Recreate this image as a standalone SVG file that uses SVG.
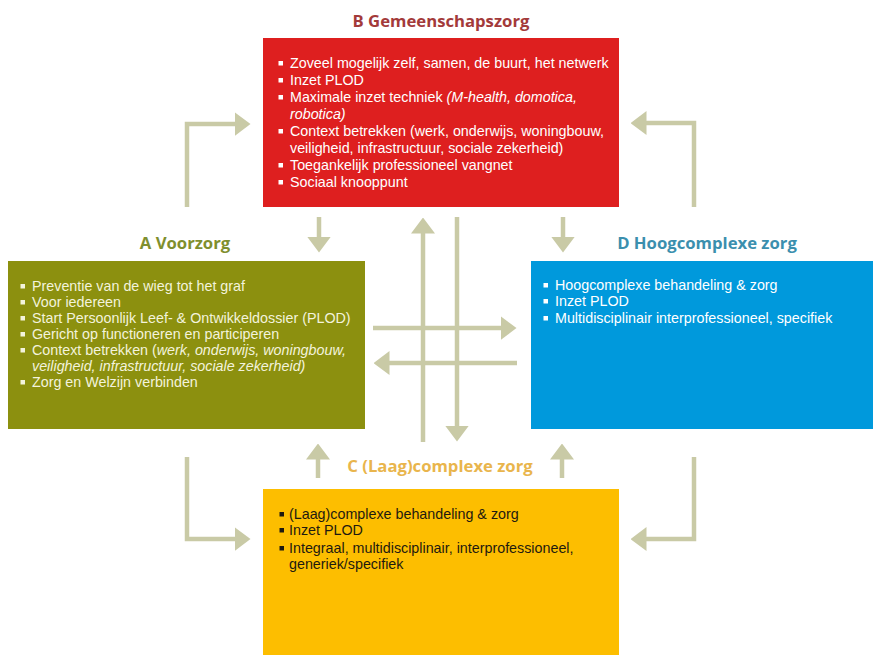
<svg xmlns="http://www.w3.org/2000/svg" width="873" height="655" viewBox="0 0 873 655">
<style>
.title{font-family:"Open Sans","Liberation Sans",sans-serif;font-weight:bold;font-size:16.7px;text-anchor:middle}
.body{font-family:"Liberation Sans",Arial,sans-serif;font-size:14.3px}
.w{fill:#ffffff}
.a{fill:#f3f3dc}
.k{fill:#1e1a10}
.it{font-style:italic}
.conn path{fill:none;stroke:#c9caa6;stroke-width:4.5}
</style>
<defs>
<marker id="ah" viewBox="0 0 16 24" markerWidth="16" markerHeight="24" markerUnits="userSpaceOnUse" refX="0.5" refY="12" orient="auto">
<path d="M0,0 L16,12 L0,24 z" fill="#c9caa6"/>
</marker>
</defs>
<rect width="873" height="655" fill="#ffffff"/>

<g class="conn" id="connectors">
<path d="M187,207 V124 H235" marker-end="url(#ah)"/>
<path d="M694,207 V123 H646" marker-end="url(#ah)"/>
<path d="M187,457 V539 H235" marker-end="url(#ah)"/>
<path d="M694,457 V539 H646" marker-end="url(#ah)"/>
<path d="M319,217 V237" marker-end="url(#ah)"/>
<path d="M563,217 V237" marker-end="url(#ah)"/>
<path d="M318,478 V459" marker-end="url(#ah)"/>
<path d="M562,478 V459" marker-end="url(#ah)"/>
<path d="M423,442 V233" marker-end="url(#ah)"/>
<path d="M457,217 V426" marker-end="url(#ah)"/>
<path d="M373,328 H501" marker-end="url(#ah)"/>
<path d="M517,363 H389" marker-end="url(#ah)"/>
</g>

<g id="nodeB">
<text class="title" x="441" y="27" fill="#a33a3a">B Gemeenschapszorg</text>
<rect x="263" y="38" width="356" height="169" fill="#de1f1f"/>
<g class="w">
<rect x="278.5" y="61" width="4.5" height="4.5"/><rect x="278.5" y="78" width="4.5" height="4.5"/><rect x="278.5" y="95" width="4.5" height="4.5"/><rect x="278.5" y="129" width="4.5" height="4.5"/><rect x="278.5" y="163" width="4.5" height="4.5"/><rect x="278.5" y="180" width="4.5" height="4.5"/>
</g>
<g class="body w">
<text x="290" y="68">Zoveel mogelijk zelf, samen, de buurt, het netwerk</text>
<text x="290" y="85">Inzet PLOD</text>
<text x="290" y="102">Maximale inzet techniek <tspan class="it">(M-health, domotica,</tspan></text>
<text x="290" y="119" class="it">robotica)</text>
<text x="290" y="136">Context betrekken (werk, onderwijs, woningbouw,</text>
<text x="290" y="153">veiligheid, infrastructuur, sociale zekerheid)</text>
<text x="290" y="170">Toegankelijk professioneel vangnet</text>
<text x="290" y="187">Sociaal knooppunt</text>
</g>
</g>

<g id="nodeA">
<text class="title" x="185" y="249" fill="#7f8f2e">A Voorzorg</text>
<rect x="8" y="261" width="357" height="168" fill="#8c900f"/>
<g class="a">
<rect x="20.5" y="284" width="4.5" height="4.5"/><rect x="20.5" y="300" width="4.5" height="4.5"/><rect x="20.5" y="316" width="4.5" height="4.5"/><rect x="20.5" y="332" width="4.5" height="4.5"/><rect x="20.5" y="348" width="4.5" height="4.5"/><rect x="20.5" y="380" width="4.5" height="4.5"/>
</g>
<g class="body a">
<text x="32" y="291">Preventie van de wieg tot het graf</text>
<text x="32" y="307">Voor iedereen</text>
<text x="32" y="323">Start Persoonlijk Leef- &amp; Ontwikkeldossier (PLOD)</text>
<text x="32" y="339">Gericht op functioneren en participeren</text>
<text x="32" y="355">Context betrekken (<tspan class="it">werk, onderwijs, woningbouw,</tspan></text>
<text x="32" y="371" class="it">veiligheid, infrastructuur, sociale zekerheid)</text>
<text x="32" y="387">Zorg en Welzijn verbinden</text>
</g>
</g>

<g id="nodeD">
<text class="title" x="707" y="249" fill="#3b8fae">D Hoogcomplexe zorg</text>
<rect x="531" y="261" width="342" height="168" fill="#0099dc"/>
<g class="w">
<rect x="543.5" y="283" width="4.5" height="4.5"/><rect x="543.5" y="299" width="4.5" height="4.5"/><rect x="543.5" y="316" width="4.5" height="4.5"/>
</g>
<g class="body w">
<text x="555" y="290">Hoogcomplexe behandeling &amp; zorg</text>
<text x="555" y="306">Inzet PLOD</text>
<text x="555" y="323">Multidisciplinair interprofessioneel, specifiek</text>
</g>
</g>

<g id="nodeC">
<text class="title" x="440" y="472" fill="#e9b54c">C (Laag)complexe zorg</text>
<rect x="263" y="489" width="356" height="166" fill="#fdbe00"/>
<g class="k">
<rect x="279.5" y="512" width="4.5" height="4.5"/><rect x="279.5" y="528" width="4.5" height="4.5"/><rect x="279.5" y="546" width="4.5" height="4.5"/>
</g>
<g class="body k">
<text x="289" y="519">(Laag)complexe behandeling &amp; zorg</text>
<text x="289" y="535">Inzet PLOD</text>
<text x="289" y="553">Integraal, multidisciplinair, interprofessioneel,</text>
<text x="289" y="569">generiek/specifiek</text>
</g>
</g>
</svg>
